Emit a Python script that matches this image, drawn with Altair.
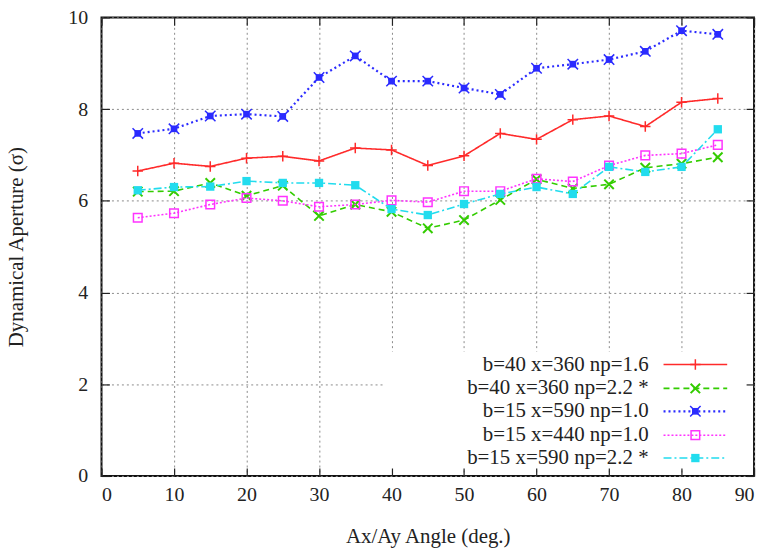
import altair as alt
import pandas as pd

angles = [5, 10, 15, 20, 25, 30, 35, 40, 45, 50, 55, 60, 65, 70, 75, 80, 85]

da_b40_np16 = [6.65, 6.82, 6.75, 6.93, 6.97, 6.87, 7.15, 7.11, 6.77, 6.98, 7.47, 7.34, 7.77, 7.85, 7.62, 8.15, 8.23]
da_b40_np22 = [6.20, 6.21, 6.39, 6.11, 6.33, 5.67, 5.92, 5.76, 5.40, 5.58, 6.02, 6.47, 6.27, 6.36, 6.72, 6.81, 6.95]
da_b15_x590_np10 = [7.47, 7.57, 7.85, 7.89, 7.84, 8.69, 9.16, 8.61, 8.61, 8.46, 8.32, 8.89, 8.98, 9.08, 9.26, 9.71, 9.63]
da_b15_x440_np10 = [5.63, 5.73, 5.92, 6.06, 6.00, 5.87, 5.92, 6.01, 5.97, 6.21, 6.21, 6.48, 6.42, 6.77, 6.99, 7.03, 7.22]
da_b15_x590_np22 = [6.23, 6.30, 6.31, 6.43, 6.39, 6.39, 6.34, 5.82, 5.69, 5.93, 6.15, 6.30, 6.15, 6.74, 6.63, 6.74, 7.56]

series_labels = [
    "b=40 x=360 np=1.6",
    "b=40 x=360 np=2.2 *",
    "b=15 x=590 np=1.0",
    "b=15 x=440 np=1.0",
    "b=15 x=590 np=2.2 *",
]
series_values = [da_b40_np16, da_b40_np22, da_b15_x590_np10, da_b15_x440_np10, da_b15_x590_np22]

x_ticks = [0, 10, 20, 30, 40, 50, 60, 70, 80, 90]
y_ticks = [0, 2, 4, 6, 8, 10]

colors = ["#ff2a2a", "#33cc00", "#2b2bff", "#ff33ff", "#22dcee"]
dashes = [[1, 0], [6, 4], [2, 3], [2, 2], [8, 3, 2, 3]]
widths = [1.6, 1.6, 2.2, 1.6, 1.6]

FONT = "Liberation Serif, Times New Roman, serif"
W, H = 656, 461

rows = []
for lab, vals in zip(series_labels, series_values):
    for a, v in zip(angles, vals):
        rows.append({"angle": a, "da": v, "series": lab})
df = pd.DataFrame(rows)

xs = alt.Scale(domain=[0, 90], nice=False, zero=False)
ys = alt.Scale(domain=[0, 10], nice=False, zero=False)

PLUS = "M-1,0L1,0M0,-1L0,1"
CROSS = "M-1,-1L1,1M-1,1L1,-1"

axis_x_main = alt.Axis(values=x_ticks, grid=True, gridDash=[2, 3], gridColor="#8a8a8a", gridWidth=1,
                       ticks=False, domain=False, labelPadding=9, labelFont=FONT, labelFontSize=20,
                       labelColor="#222", title="Ax/Ay Angle (deg.)", titleFont=FONT, titleFontSize=21,
                       titleFontWeight="normal", titleColor="#222", titleY=50)
axis_y_main = alt.Axis(values=y_ticks, grid=True, gridDash=[2, 3], gridColor="#8a8a8a", gridWidth=1,
                       ticks=False, domain=False, labelPadding=14, labelFont=FONT, labelFontSize=20,
                       labelColor="#222", title="Dynamical Aperture (σ)", titleFont=FONT, titleFontSize=21,
                       titleFontWeight="normal", titleColor="#222", titleX=-75)

def tick_axis(vals, orient):
    return alt.Axis(values=vals, orient=orient, offset=-8, tickSize=8, tickColor="#222", tickWidth=1.2,
                    labels=False, domain=False, grid=False, title=None, zindex=1)

base_layer = alt.Chart(df).mark_point(opacity=0).encode(
    x=alt.X("angle:Q", scale=xs, axis=axis_x_main),
    y=alt.Y("da:Q", scale=ys, axis=axis_y_main),
)
ticks_bl = alt.Chart(df).mark_point(opacity=0).encode(
    x=alt.X("angle:Q", scale=xs, axis=tick_axis(x_ticks, "bottom")),
    y=alt.Y("da:Q", scale=ys, axis=tick_axis(y_ticks, "left")),
)
ticks_tr = alt.Chart(df).mark_point(opacity=0).encode(
    x=alt.X("angle:Q", scale=xs, axis=tick_axis(x_ticks, "top")),
    y=alt.Y("da:Q", scale=ys, axis=tick_axis(y_ticks, "right")),
)

one = pd.DataFrame({"k": [0]})
legend_bg = alt.Chart(one).mark_rect(color="white").encode(
    x=alt.value(283), x2=alt.value(654), y=alt.value(336), y2=alt.value(455)
)

layers = [base_layer, legend_bg]

def point_layers(data, color, i, xenc, yenc):
    out = []
    if i == 0:
        out.append(alt.Chart(data).mark_point(shape=PLUS, filled=False, color=color, size=110, strokeWidth=1.5, opacity=1).encode(x=xenc, y=yenc))
    elif i == 1:
        out.append(alt.Chart(data).mark_point(shape=CROSS, filled=False, color=color, size=90, strokeWidth=2, opacity=1).encode(x=xenc, y=yenc))
    elif i == 2:
        out.append(alt.Chart(data).mark_point(shape="square", filled=True, color=color, size=45, opacity=1).encode(x=xenc, y=yenc))
        out.append(alt.Chart(data).mark_point(shape=CROSS, filled=False, color=color, size=110, strokeWidth=1.5, opacity=1).encode(x=xenc, y=yenc))
    elif i == 3:
        out.append(alt.Chart(data).mark_point(shape="square", filled=False, color=color, size=75, strokeWidth=1.5, opacity=1).encode(x=xenc, y=yenc))
    else:
        out.append(alt.Chart(data).mark_point(shape="square", filled=True, color=color, size=70, opacity=1).encode(x=xenc, y=yenc))
    return out

for i, lab in enumerate(series_labels):
    sub = df[df["series"] == lab]
    xenc = alt.X("angle:Q", scale=xs, axis=None)
    yenc = alt.Y("da:Q", scale=ys, axis=None)
    layers.append(alt.Chart(sub).mark_line(color=colors[i], strokeDash=dashes[i], strokeWidth=widths[i]).encode(x=xenc, y=yenc))
    layers += point_layers(sub, colors[i], i, xenc, yenc)

leg_y = [349, 373, 396, 420, 443]
for i, lab in enumerate(series_labels):
    ld = pd.DataFrame({"series": [lab]})
    layers.append(alt.Chart(ld).mark_text(align="right", baseline="middle", font=FONT, fontSize=21, color="#222").encode(
        x=alt.value(550), y=alt.value(leg_y[i]), text="series:N"))
    layers.append(alt.Chart(ld).mark_rule(color=colors[i], strokeDash=dashes[i], strokeWidth=widths[i]).encode(
        x=alt.value(565), x2=alt.value(629), y=alt.value(leg_y[i])))
    layers += point_layers(ld, colors[i], i, alt.value(597), alt.value(leg_y[i]))

layers += [ticks_bl, ticks_tr]

chart = alt.layer(*layers).resolve_axis(x="independent", y="independent").properties(
    width=W, height=H,
    autosize=alt.AutoSizeParams(type="none"),
    padding={"left": 94, "top": 8, "right": 10, "bottom": 72},
).configure_view(stroke="#111", strokeWidth=2)

chart.save("out.html", embed_options={"renderer": "svg", "actions": False})
